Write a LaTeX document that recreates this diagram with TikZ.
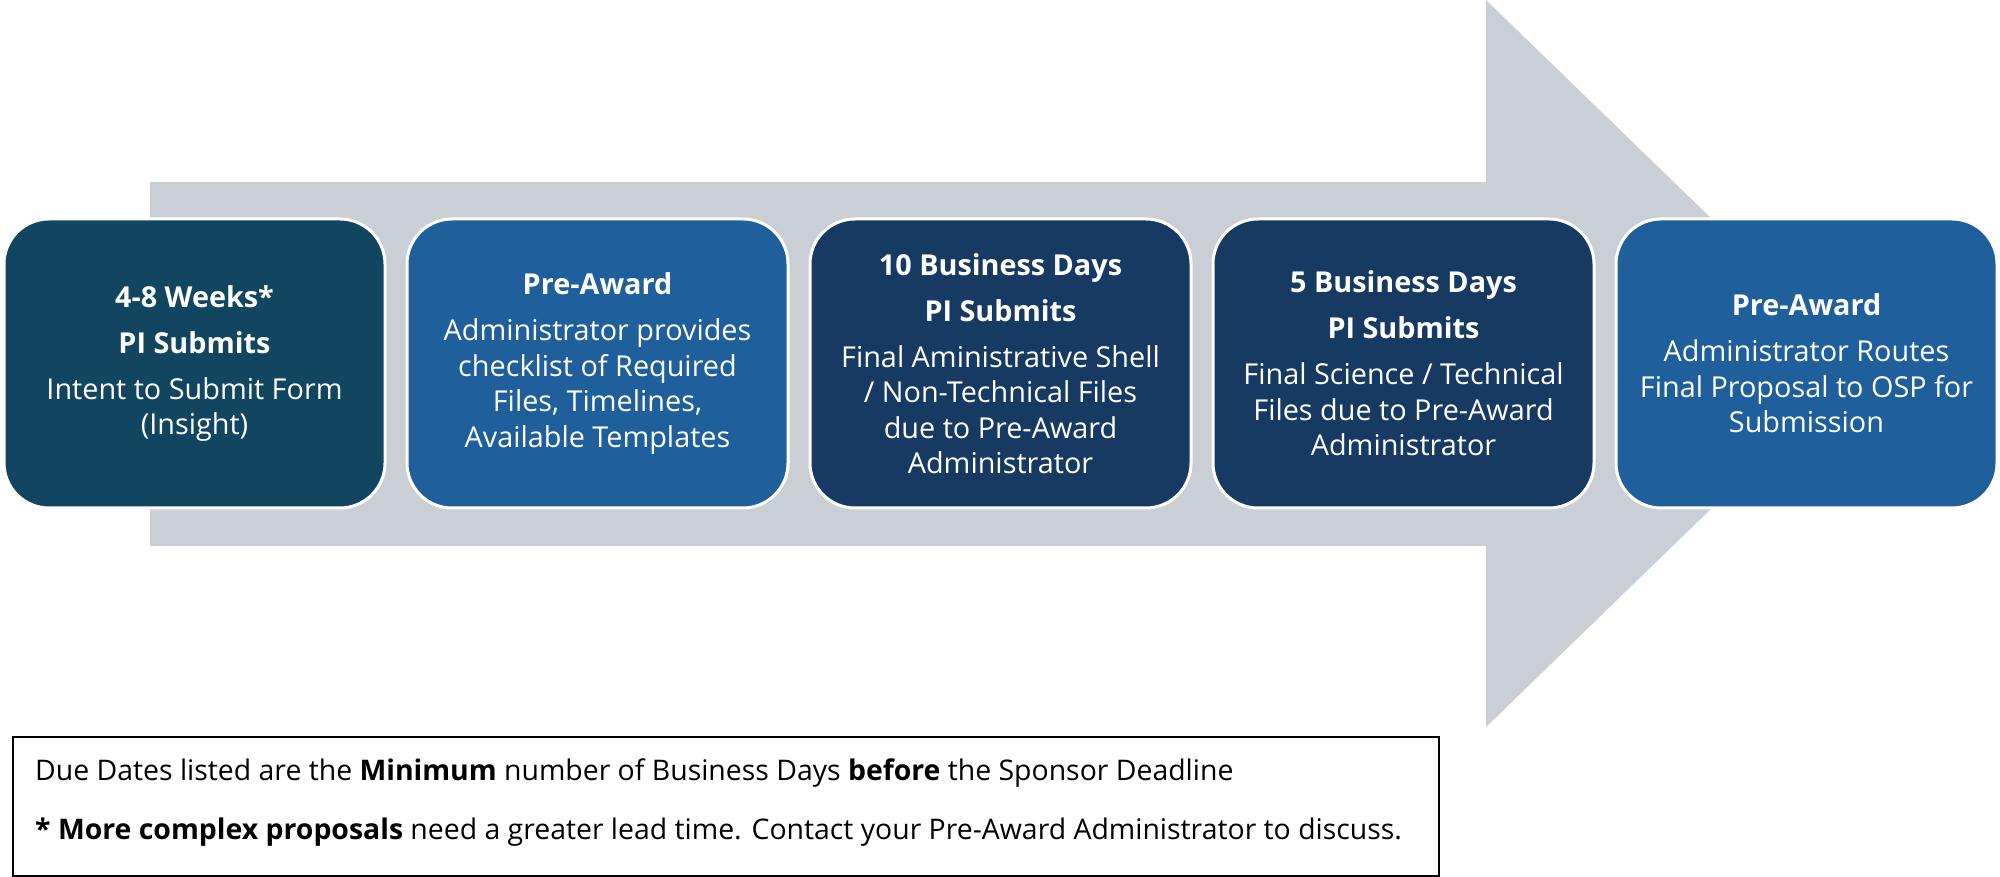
\documentclass[tikz,border=0pt]{standalone}
\usepackage{fontspec}
\setmainfont{Open Sans}
\definecolor{arrowgray}{HTML}{CACFD6}
\definecolor{boxteal}{HTML}{114560}
\definecolor{boxblue}{HTML}{1F5F9B}
\definecolor{boxnavy}{HTML}{173A63}
\begin{document}
\begin{tikzpicture}[x=1pt,y=1pt,
  stepbox/.style={rounded corners=45pt, draw=white, line width=3pt,
    minimum width=381pt, minimum height=289pt, align=center, text=white,
    inner sep=0pt, font=\fontsize{28.8}{35.5}\selectfont},
  notebox/.style={draw=black, line width=1.5pt, minimum width=1426pt,
    minimum height=139pt, inner sep=0pt},
  notetext/.style={anchor=base west, inner sep=0pt, font=\fontsize{28.4}{34}\selectfont}]
\useasboundingbox (0,0) rectangle (2000,877);
\fill[white] (0,0) rectangle (2000,877);
\fill[arrowgray] (150,331) -- (1486,331) -- (1486,150) -- (1861,513.5)
  -- (1486,877) -- (1486,695) -- (150,695) -- cycle;
\node[stepbox, fill=boxteal] (s1) at (194.5,513.5)
  {\textbf{4-8 Weeks*}\\[10.5pt]\textbf{PI Submits}\\[10.5pt]Intent to Submit Form\\(Insight)};
\node[stepbox, fill=boxblue] (s2) at (597.5,513.5)
  {\textbf{Pre-Award}\\[10.5pt]Administrator provides\\checklist of Required\\Files, Timelines,\\Available Templates};
\node[stepbox, fill=boxnavy] (s3) at (1000.5,513.5)
  {\textbf{10 Business Days}\\[10.5pt]\textbf{PI Submits}\\[10.5pt]Final Aministrative Shell\\/ Non-Technical Files\\due to Pre-Award\\Administrator};
\node[stepbox, fill=boxnavy] (s4) at (1403.5,513.5)
  {\textbf{5 Business Days}\\[10.5pt]\textbf{PI Submits}\\[10.5pt]Final Science / Technical\\Files due to Pre-Award\\Administrator};
\node[stepbox, fill=boxblue] (s5) at (1806.5,513.5)
  {\textbf{Pre-Award}\\[10.5pt]Administrator Routes\\Final Proposal to OSP for\\Submission};
\node[notebox] (note) at (726,70.5) {};
\node[notetext] (n1) at (35,96)
  {Due Dates listed are the \textbf{Minimum} number of Business Days \textbf{before} the Sponsor Deadline};
\node[notetext] (n2) at (35,37)
  {\textbf{* More complex proposals} need a greater lead time. Contact your Pre-Award Administrator to discuss.};
\end{tikzpicture}
\end{document}
